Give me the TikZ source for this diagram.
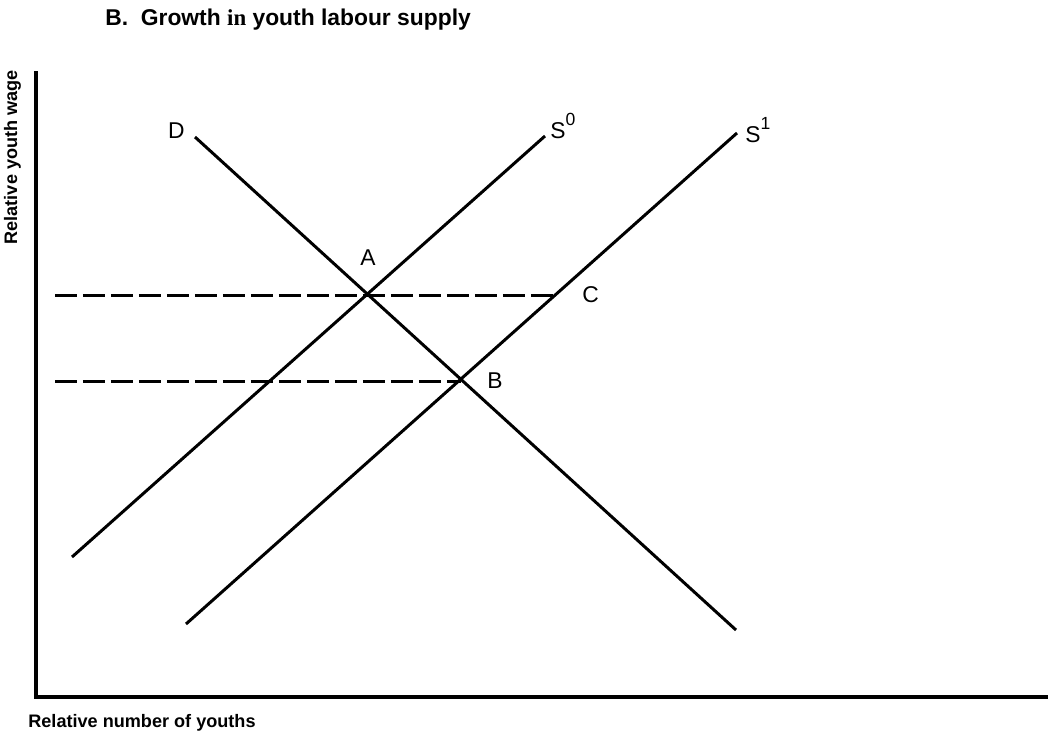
\documentclass[tikz,border=0pt]{standalone}
\usepackage{fontspec}
\setmainfont{Liberation Sans}
\newfontfamily\serifword{Liberation Serif}
\usepackage{tikz}
\usetikzlibrary{
  positioning
}
\tikzset{
  axisline/.style={
    line width=2.6pt,
    line join=miter
  },
  curve/.style={
    line width=1.7pt
  },
  wageline/.style={
    line width=1.7pt,
    dash pattern=on 0.44cm off 0.12cm
  },
  pointlabel/.style={
    font=\fontsize{13}{15}\selectfont,
    inner sep=0pt
  },
  axislabel/.style={
    font=\bfseries\fontsize{10.3}{12}\selectfont,
    inner sep=0pt
  },
  titlelabel/.style={
    font=\bfseries\fontsize{13}{15}\selectfont,
    inner sep=0pt
  }
}
\newcommand{\supply}[1]{S\raisebox{7pt}{\fontsize{10}{12}\selectfont #1}}

\begin{document}
\begin{tikzpicture}[x=0.02cm, y=-0.02cm]

  \useasboundingbox (0,0) rectangle (1048,735);

  % axes
  \coordinate (yTop) at (36,71);
  \coordinate (origin) at (36,697);
  \coordinate (xEnd) at (1048,697);

  % curves
  \coordinate (dTop) at (195,137);
  \coordinate (dBot) at (736,630);
  \coordinate (sZeroLow) at (72,557);
  \coordinate (sZeroHigh) at (545,136);
  \coordinate (sOneLow) at (186,624);
  \coordinate (sOneHigh) at (737,133);

  % points
  \coordinate (ptA) at (368,295);
  \coordinate (ptB) at (461,381);
  \coordinate (ptC) at (555,295);
  \coordinate (wageA) at (55,295);
  \coordinate (wageB) at (55,381);

  \draw[axisline] (yTop) -- (origin) -- (xEnd);

  \draw[curve] (dTop) -- (dBot);
  \draw[curve] (sZeroLow) -- (sZeroHigh);
  \draw[curve] (sOneLow) -- (sOneHigh);

  \draw[wageline] (wageA) -- (ptC);
  \draw[wageline] (wageB) -- (ptB);

  \node[
    titlelabel,
    anchor=base west
  ] (title) at (105,25) {
    B.\ \ Growth {\serifword in} youth labour supply
  };

  \node[
    axislabel,
    anchor=base west
  ] (xlabel) at (28,727) {
    Relative number of youths
  };

  \node[
    axislabel,
    rotate=90,
    anchor=base east
  ] (ylabel) at (17,70) {
    Relative youth wage
  };

  \node[
    pointlabel,
    left=0.2cm of dTop,
    yshift=0.12cm
  ] (labD) {D};

  \node[
    pointlabel,
    anchor=base west
  ] (labS0) at (550,138) {\supply{0}};

  \node[
    pointlabel,
    anchor=base west
  ] (labS1) at (745,142) {\supply{1}};

  \node[
    pointlabel,
    above=0.58cm of ptA
  ] (labA) {A};

  \node[
    pointlabel,
    right=0.52cm of ptB
  ] (labB) {B};

  \node[
    pointlabel,
    right=0.54cm of ptC
  ] (labC) {C};

\end{tikzpicture}
\end{document}
